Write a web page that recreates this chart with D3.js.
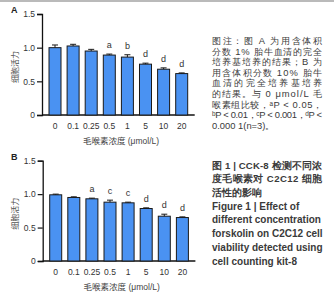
<!DOCTYPE html>
<html>
    <head>
        <meta charset="UTF-8">
        <script src="https://d3js.org/d3.v7.min.js"></script>
        <style>
            body { margin: 0; background: #fff; }
            text { font-family: "Liberation Sans", Arial, sans-serif; }
            .cjk { font-family: "Noto Sans CJK SC", sans-serif; }
        </style>
    </head>
    <body>
        <svg id="canvas"></svg>
        <script>

            width = 334;
            height = 300;

            doses = ["0", "0.1", "0.25", "0.5", "1", "5", "10", "20"];
            yTicks = [0, 0.5, 1.0, 1.5];

            valuesA = [1.00, 1.025, 0.95, 0.89, 0.86, 0.755, 0.68, 0.615];
            errorsA = [0.04, 0.025, 0.025, 0.015, 0.035, 0.015, 0.02, 0.01];
            marksA  = ["", "", "", "a", "b", "d", "d", "d"];

            valuesB = [0.99, 0.95, 0.93, 0.88, 0.87, 0.785, 0.67, 0.65];
            errorsB = [0.01, 0.01, 0.01, 0.03, 0.01, 0.01, 0.03, 0.01];
            marksB  = ["", "", "a", "c", "c", "d", "d", "d"];

            notes = [
                "图注：图 A 为用含体积",
                "分数 1% 胎牛血清的完全",
                "培养基培养的结果；B 为",
                "用含体积分数 10% 胎牛",
                "血清的完全培养基培养",
                "的结果。与 0 μmol/L 毛",
                "喉素组比较，ᵃP < 0.05，",
                "ᵇP < 0.01，ᶜP < 0.001，ᵈP <",
                "0.000 1(n=3)。"
            ];
            titleCn = ["图 1 | CCK-8 检测不同浓", "度毛喉素对 C2C12 细胞", "活性的影响"];
            titleEn = ["Figure 1 | Effect of", "different concentration",
                       "forskolin on C2C12 cell", "viability detected using", "cell counting kit-8"];

            canvas = d3.select("#canvas")
                .attr("width", width)
                .attr("height", height);

            canvas.append("line")
                .attr("x1", 0).attr("x2", width).attr("y1", 1).attr("y2", 1)
                .attr("style", "stroke:#777; stroke-width:1.2;");

            function panel(letter, values, errors, marks, x0, yTop, yBottom) {
                g = canvas.append("g");

                x = d3.scaleBand()
                    .domain(doses)
                    .range([x0, x0 + 152.7])
                    .paddingInner(0.337)
                    .paddingOuter(0.387);

                y = d3.scaleLinear()
                    .domain([0, 1.5])
                    .range([yBottom, yTop]);

                yAxis = g.append("g")
                    .attr("transform", "translate(" + x0 + ",0)")
                    .call(d3.axisLeft(y).tickValues(yTicks).tickSize(5).tickPadding(2)
                        .tickFormat(d => d == 0 ? "0" : d3.format(".1f")(d)));
                yAxis.select(".domain").attr("stroke", "#111").attr("stroke-width", 1.3);
                yAxis.selectAll(".tick line").attr("stroke", "#111").attr("stroke-width", 1.2);
                yAxis.selectAll(".tick text").attr("fill", "#333").attr("font-size", 8.5);

                g.append("line")
                    .attr("x1", x0).attr("x2", x0 + 152.7)
                    .attr("y1", yBottom).attr("y2", yBottom)
                    .attr("style", "stroke:#111; stroke-width:1.3;");

                bars = g.selectAll(".bar").data(values).enter();

                bars.append("rect")
                    .attr("x", (d, i) => x(doses[i]))
                    .attr("y", d => y(d))
                    .attr("width", x.bandwidth())
                    .attr("height", d => yBottom - y(d))
                    .attr("style", "fill:#4a92f2; stroke:#1a1a1a; stroke-width:1;");

                bars.append("line")
                    .attr("x1", (d, i) => x(doses[i]) + x.bandwidth() / 2)
                    .attr("x2", (d, i) => x(doses[i]) + x.bandwidth() / 2)
                    .attr("y1", d => y(d))
                    .attr("y2", (d, i) => y(d + errors[i]))
                    .attr("style", "stroke:#1a1a1a; stroke-width:1;");

                bars.append("line")
                    .attr("x1", (d, i) => x(doses[i]) + x.bandwidth() / 2 - 3)
                    .attr("x2", (d, i) => x(doses[i]) + x.bandwidth() / 2 + 3)
                    .attr("y1", (d, i) => y(d + errors[i]))
                    .attr("y2", (d, i) => y(d + errors[i]))
                    .attr("style", "stroke:#1a1a1a; stroke-width:1;");

                bars.append("text")
                    .attr("x", (d, i) => x(doses[i]) + x.bandwidth() / 2)
                    .attr("y", (d, i) => y(d + errors[i]) - 6)
                    .attr("text-anchor", "middle")
                    .attr("font-size", 9)
                    .attr("fill", "#333")
                    .text((d, i) => marks[i]);

                g.selectAll(".xl").data(doses).enter().append("text")
                    .attr("x", d => x(d) + x.bandwidth() / 2)
                    .attr("y", yBottom + 14)
                    .attr("text-anchor", "middle")
                    .attr("font-size", 8.5)
                    .attr("fill", "#333")
                    .text(d => d);

                g.append("text")
                    .attr("x", x0 + 79).attr("y", yBottom + 29)
                    .attr("text-anchor", "middle")
                    .attr("font-size", 8.5)
                    .attr("fill", "#444")
                    .html('<tspan class="cjk">毛喉素浓度</tspan> (μmol/L)');

                g.append("text")
                    .attr("class", "cjk")
                    .attr("transform", "translate(18," + (yTop + 53) + ") rotate(-90)")
                    .attr("text-anchor", "middle")
                    .attr("font-size", 8)
                    .attr("fill", "#555")
                    .text("细胞活力");

                g.append("text")
                    .attr("x", 11).attr("y", yTop - 1)
                    .attr("font-size", 9)
                    .attr("font-weight", "bold")
                    .attr("fill", "#222")
                    .text(letter);
            }

            panel("A", valuesA, errorsA, marksA, 42, 14, 115);
            panel("B", valuesB, errorsB, marksB, 42.7, 160.7, 261);

            // caption on the right: one text block per paragraph, a tspan per line
            function block(lines, y0, step, size, weight, family, justify) {
                t = canvas.append("text")
                    .attr("font-size", size)
                    .attr("font-weight", weight)
                    .attr("font-family", family)
                    .attr("fill", "#3a3a3a");
                lines.forEach(function(s, i) {
                    sp = t.append("tspan")
                        .attr("x", 212).attr("y", y0 + i * step)
                        .text(s);
                    if (justify && i < lines.length - 1) sp.attr("textLength", 110).attr("lengthAdjust", "spacing");
                });
            }

            cjkFont = "'Noto Sans CJK SC', sans-serif";
            block(notes, 44, 10.6, 9.4, "normal", cjkFont, true);
            block(titleCn, 169, 13.4, 9.6, "bold", cjkFont, true);
            block(titleEn, 209.5, 13.8, 10, "bold", "Lato, sans-serif", false);

        </script>
    </body>
</html>
